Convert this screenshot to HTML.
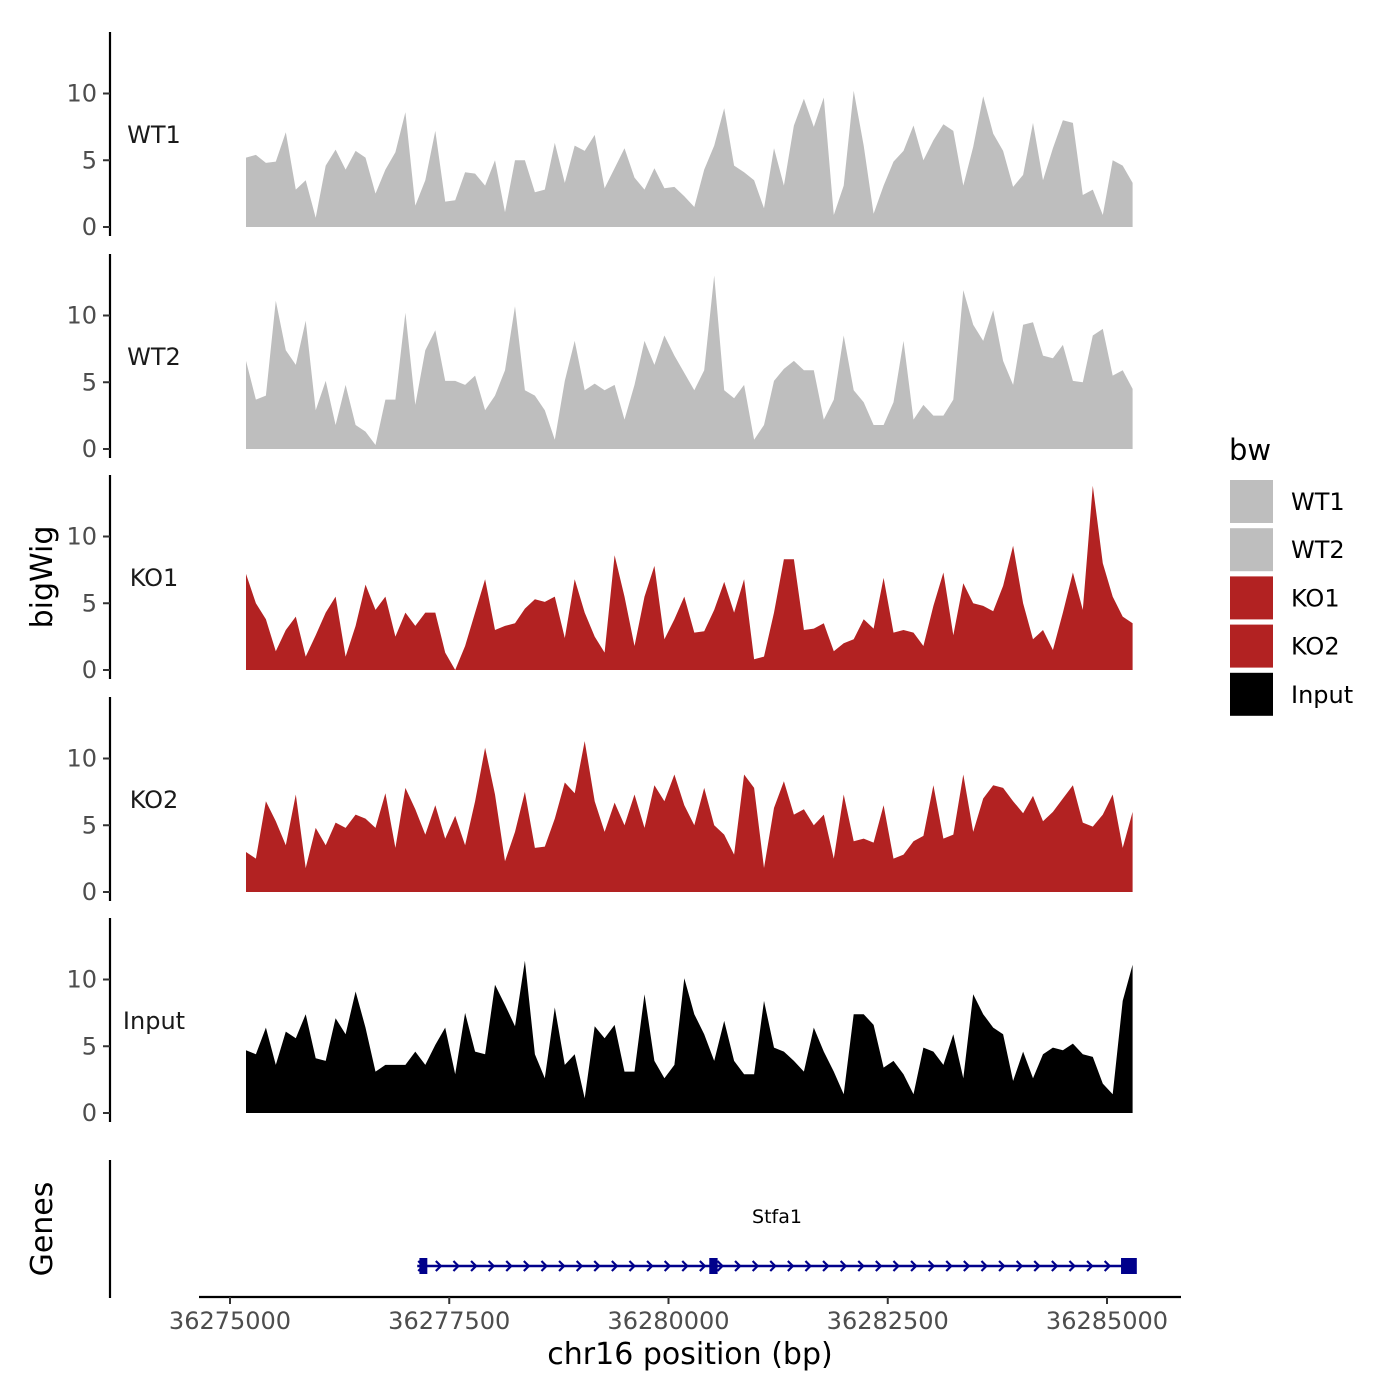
<!DOCTYPE html>
<html><head><meta charset="utf-8"><style>
body{margin:0;background:#fff;}
svg{display:block;font-family:"DejaVu Sans","Liberation Sans",sans-serif;}
</style></head><body>
<svg id="chart" width="1400" height="1400" viewBox="0 0 1400 1400" xmlns="http://www.w3.org/2000/svg">
<rect width="1400" height="1400" fill="#fff"/>
<g id="panels"></g>
<g id="genes"></g>
<text x="52" y="577" transform="rotate(-90 52 577)" text-anchor="middle" font-size="30" fill="#000">bigWig</text>
<text x="52" y="1229" transform="rotate(-90 52 1229)" text-anchor="middle" font-size="30" fill="#000">Genes</text>
<text x="690" y="1364" text-anchor="middle" font-size="30" fill="#000">chr16 position (bp)</text>
<g id="legend">
<text x="1229" y="460" font-size="29" fill="#000">bw</text>
</g>
</svg>
<script>
const tracks = ["WT1","WT2","KO1","KO2","Input"];
const trackColors = ["#bebebe","#bebebe","#b22222","#b22222","#000000"];
const yTicks = [0,5,10];
const xTicks = [36275000,36277500,36280000,36282500,36285000];
const binStart = 36275182;
const binStep = 113.6;
const wt1 = [5.2,5.4,4.8,4.9,7.1,2.8,3.5,0.7,4.6,5.8,4.3,5.7,5.2,2.5,4.3,5.6,8.6,1.6,3.5,7.2,1.9,2.0,4.1,4.0,3.1,5.0,1.1,5.0,5.0,2.6,2.8,6.3,3.3,6.1,5.7,6.9,2.9,4.4,5.9,3.7,2.8,4.4,2.9,3.0,2.3,1.5,4.3,6.1,8.9,4.6,4.1,3.5,1.4,5.9,3.1,7.6,9.6,7.5,9.7,0.9,3.1,10.2,6.1,1.0,3.1,4.9,5.7,7.6,5.0,6.5,7.7,7.2,3.1,6.0,9.8,7.0,5.7,3.0,3.9,7.8,3.5,5.9,8.0,7.8,2.4,2.8,0.9,5.0,4.6,3.3];
const wt2 = [6.6,3.7,4.0,11.1,7.4,6.3,9.6,2.9,5.1,1.8,4.8,1.8,1.3,0.3,3.7,3.7,10.2,3.3,7.4,8.9,5.1,5.1,4.8,5.5,2.9,4.0,5.9,10.7,4.4,4.0,2.9,0.7,5.1,8.1,4.4,4.9,4.4,4.8,2.2,4.8,8.1,6.3,8.5,7.0,5.7,4.4,5.9,13.0,4.4,3.8,4.8,0.7,1.8,5.1,6.0,6.6,5.9,5.9,2.2,3.7,8.5,4.4,3.5,1.8,1.8,3.5,8.1,2.2,3.3,2.5,2.5,3.7,11.9,9.3,8.1,10.4,6.6,4.8,9.3,9.5,7.0,6.8,7.8,5.1,5.0,8.5,9.0,5.5,5.9,4.5];
const ko1 = [7.2,5.0,3.8,1.4,3.0,4.0,1.0,2.6,4.3,5.5,1.0,3.3,6.4,4.5,5.5,2.5,4.3,3.3,4.3,4.3,1.3,0.0,1.8,4.3,6.8,3.0,3.3,3.5,4.6,5.3,5.1,5.5,2.4,6.8,4.3,2.5,1.3,8.6,5.5,1.8,5.5,7.8,2.3,3.8,5.5,2.8,2.9,4.5,6.6,4.3,6.8,0.8,1.0,4.3,8.3,8.3,3.0,3.1,3.5,1.4,2.0,2.3,3.8,3.1,6.9,2.8,3.0,2.8,1.8,4.8,7.3,2.6,6.5,5.0,4.8,4.4,6.3,9.3,5.0,2.3,3.0,1.5,4.3,7.3,4.5,13.8,8.0,5.5,4.0,3.5];
const ko2 = [3.0,2.5,6.8,5.3,3.5,7.3,1.8,4.8,3.5,5.2,4.8,5.8,5.5,4.8,7.4,3.3,7.8,6.2,4.3,6.5,4.0,5.7,3.5,6.8,10.8,7.3,2.3,4.5,7.5,3.3,3.4,5.5,8.2,7.4,11.3,6.8,4.5,6.7,5.0,7.3,4.8,8.0,6.8,8.8,6.5,5.0,7.8,5.0,4.3,2.8,8.8,7.8,1.8,6.3,8.3,5.8,6.2,5.0,5.8,2.5,7.3,3.8,4.0,3.7,6.5,2.5,2.8,3.8,4.2,8.0,4.0,4.3,8.8,4.5,7.0,8.0,7.8,6.8,5.9,7.2,5.3,6.0,7.0,8.0,5.2,4.9,5.8,7.3,3.3,6.0];
const inputSig = [4.7,4.4,6.4,3.6,6.1,5.6,7.4,4.1,3.9,7.1,5.9,9.1,6.4,3.1,3.6,3.6,3.6,4.6,3.6,5.1,6.4,2.9,7.5,4.6,4.4,9.6,8.1,6.5,11.4,4.4,2.6,7.9,3.6,4.4,1.1,6.5,5.6,6.6,3.1,3.1,8.9,3.9,2.6,3.6,10.1,7.4,5.9,3.9,6.9,3.9,2.9,2.9,8.4,4.9,4.6,3.9,3.1,6.4,4.6,3.1,1.4,7.4,7.4,6.6,3.4,3.9,2.9,1.4,4.9,4.6,3.6,5.9,2.6,8.9,7.4,6.4,5.9,2.4,4.6,2.6,4.4,4.9,4.7,5.2,4.4,4.2,2.2,1.4,8.4,11.1];
const series = [wt1, wt2, ko1, ko2, inputSig];
const geneName = "Stfa1";
const geneStart = 36277135;
const geneEnd = 36285300;
const exonStarts = [36277160, 36280465, 36285160];
const exonEnds = [36277250, 36280560, 36285340];

const NS = "http://www.w3.org/2000/svg";
function mk(tag, attrs, parent){const e=document.createElementNS(NS,tag);for(const k in attrs)e.setAttribute(k,attrs[k]);parent.appendChild(e);return e;}
const xScale = bp => 230 + (bp - 36275000) * 0.0877;
const panelZero = [227, 449, 670, 892, 1113];
const yPerUnit = 13.35;
const panels = document.getElementById('panels');

tracks.forEach((name, p) => {
  const g = mk('g', {}, panels);
  
  
  const y0 = panelZero[p];
  const yScale = v => y0 - v * yPerUnit;
  const vals = series[p];
  let d = 'M' + xScale(binStart).toFixed(1) + ',' + y0;
  vals.forEach((v, i) => { d += ' L' + xScale(binStart + i * binStep).toFixed(1) + ',' + yScale(v).toFixed(1); });
  d += ' L' + xScale(binStart + (vals.length - 1) * binStep).toFixed(1) + ',' + y0 + ' Z';
  const area = mk('path', {d: d, fill: trackColors[p], stroke: 'none'}, g);
  
  
  const ax = mk('line', {x1: 110, x2: 110, y1: y0 - 195, y2: y0 + 9, stroke: '#000', 'stroke-width': 2.2}, g);
  
  
  yTicks.forEach(t => {
    const ty = yScale(t);
    const tk = mk('line', {x1: 103, x2: 110, y1: ty, y2: ty, stroke: '#333', 'stroke-width': 2}, g);
    
    
    const tl = mk('text', {x: 97, y: ty + 8, 'text-anchor': 'end', 'font-size': 24, fill: '#4d4d4d'}, g);
    tl.textContent = t;
    
    
  });
  const lbl = mk('text', {x: 154, y: y0 - 84, 'text-anchor': 'middle', 'font-size': 24, fill: '#1a1a1a'}, g);
  lbl.textContent = name;
  
  
});

// genes track
const gg = document.getElementById('genes');
const gAx = mk('line', {x1: 110, x2: 110, y1: 1160, y2: 1298, stroke: '#000', 'stroke-width': 2.2}, gg);


const xAx = mk('line', {x1: 199, x2: 1181, y1: 1297, y2: 1297, stroke: '#000', 'stroke-width': 2.2}, gg);


xTicks.forEach(t => {
  const tx = xScale(t);
  const tk = mk('line', {x1: tx, x2: tx, y1: 1297, y2: 1304, stroke: '#333', 'stroke-width': 2}, gg);
  
  
  const tl = mk('text', {x: tx, y: 1329, 'text-anchor': 'middle', 'font-size': 24, fill: '#4d4d4d'}, gg);
  tl.textContent = t;
  
  
});
const gy = 1266;
const gx1 = xScale(geneStart), gx2 = xScale(geneEnd);
const gl = mk('line', {x1: gx1, x2: gx2, y1: gy, y2: gy, stroke: '#00008b', 'stroke-width': 2.5}, gg);


for (let ax = gx1 + 4; ax < gx2 - 5; ax += 17.6) {
  const ar = mk('path', {d: `M${ax-3},${gy-5} L${ax+2},${gy} L${ax-3},${gy+5}`, fill: 'none', stroke: '#00008b', 'stroke-width': 2.2}, gg);
  
  
}
exonStarts.forEach((s, i) => {
  const x1 = xScale(s), x2 = xScale(exonEnds[i]);
  const ex = mk('rect', {x: x1, y: gy - 8, width: Math.max(x2 - x1, 6), height: 16, fill: '#00008b'}, gg);
  
  
});
const gn = mk('text', {x: 777, y: 1223, 'text-anchor': 'middle', 'font-size': 19, fill: '#000'}, gg);
gn.textContent = geneName;



// legend
const lg = document.getElementById('legend');
tracks.forEach((name, i) => {
  const ky = 480 + i * 48.2;
  const k = mk('rect', {x: 1230, y: ky, width: 43, height: 43, fill: trackColors[i]}, lg);
  
  
  const t = mk('text', {x: 1291, y: ky + 30, 'font-size': 24, fill: '#000'}, lg);
  t.textContent = name;
  
  
});
</script>
</body></html>
